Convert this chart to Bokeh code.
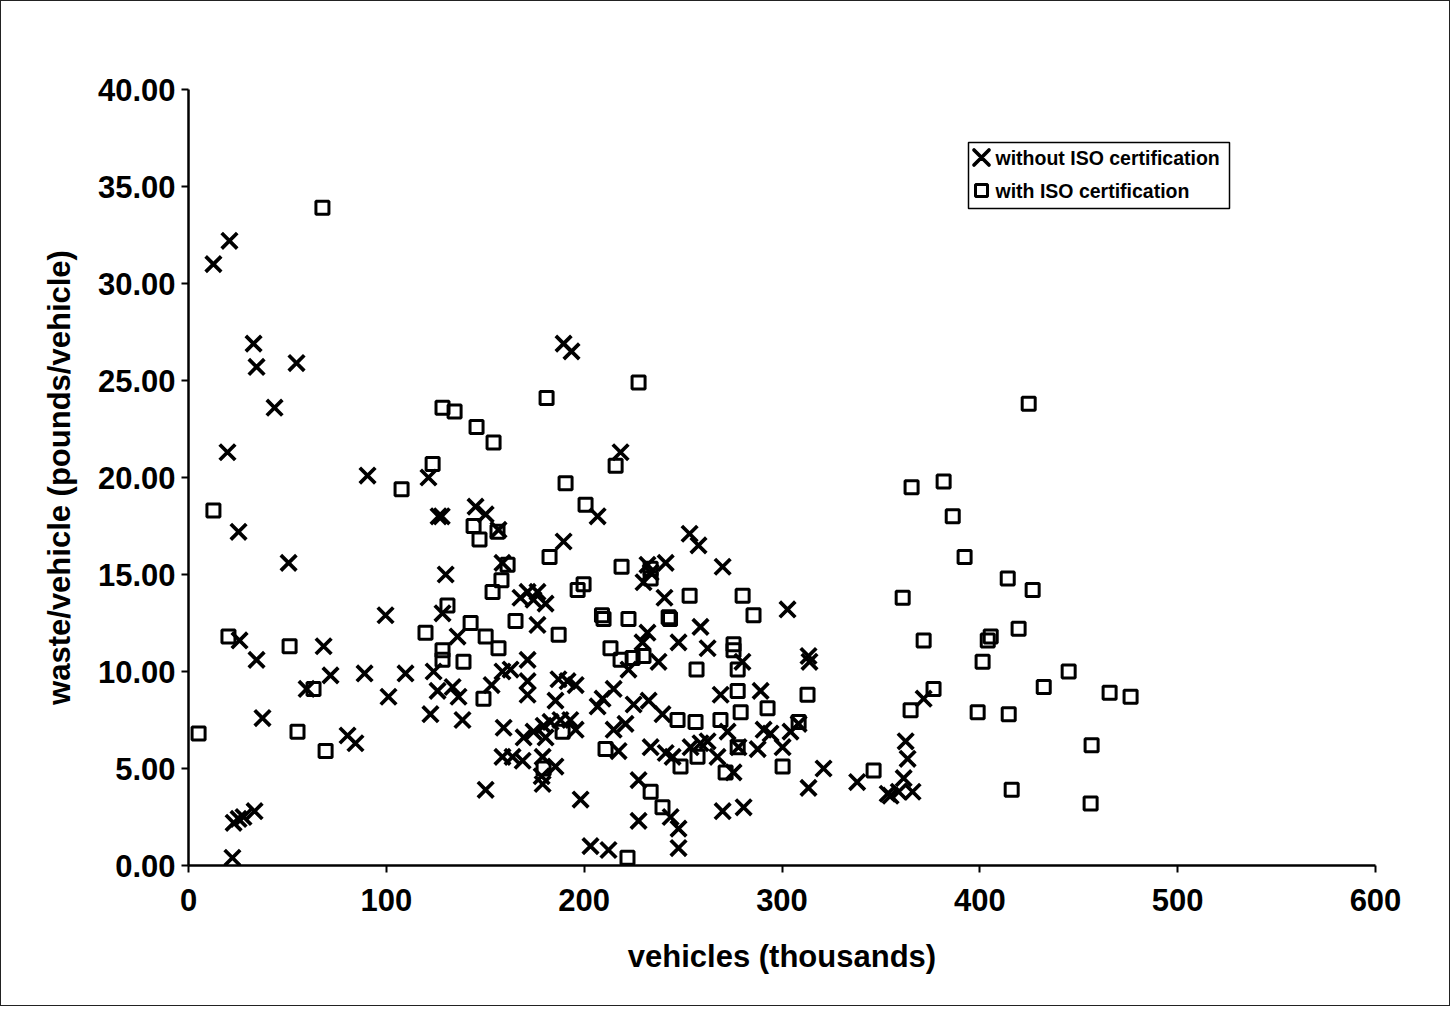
from bokeh.plotting import figure
from bokeh.models import (Range1d, FixedTicker, NumeralTickFormatter, ColumnDataSource,
                          BoxAnnotation, PolyAnnotation, Label)
from bokeh.embed import file_html
from bokeh.resources import INLINE

# without ISO certification (x: vehicles in thousands, y: pounds/vehicle)
no_iso_x = [12.6, 20.7, 32.9, 34.4, 54.6, 43.5, 19.7, 25.3, 50.6, 25.8, 34.4, 37.4, 59.7, 68.3, 71.8,
            80.4, 84.4, 89.0, 90.5, 22.8, 25.3, 27.8, 33.4, 22.2, 99.6, 101.1, 109.7, 121.3, 126.4, 128.0,
            145.1, 150.2, 156.7, 206.8, 189.6, 158.7, 130.0, 171.4, 167.8, 174.4, 180.5, 176.4, 128.4, 176.4,
            136.0, 171.4, 158.7, 162.8, 171.4, 171.4, 153.2, 187.0, 191.6, 195.7, 185.5, 123.9, 125.9, 133.5,
            136.5, 209.3, 214.9, 122.3, 138.5, 159.3, 169.4, 174.4, 179.5, 183.0, 188.0, 193.0, 195.7, 180.5,
            206.8, 222.4, 225.0, 214.9, 220.9, 158.7, 163.8, 168.9, 179.0, 185.5, 178.5, 179.0, 217.4, 150.2,
            198.2, 258.8, 232.0, 229.5, 247.7, 262.4, 237.6, 280.0, 313.4, 313.9, 269.0, 289.2, 232.6, 239.6,
            272.5, 290.7, 294.2, 304.3, 308.4, 300.3, 233.6, 241.2, 244.7, 253.8, 258.8, 262.4, 267.4, 275.5,
            278.0, 287.7, 227.5, 313.4, 321.0, 338.0, 227.5, 243.7, 247.7, 247.7, 270.0, 280.6, 212.3, 203.2,
            189.6, 193.6, 218.4, 253.3, 257.8, 270.0, 232.0, 233.6, 230.0, 241.2, 240.6, 302.8, 371.6, 362.5,
            363.5, 361.5, 353.4, 359.0, 366.0, 354.9]
no_iso_y = [31.0, 32.2, 26.9, 25.7, 25.9, 23.6, 21.3, 17.2, 15.6, 11.6, 10.6, 7.6, 9.1, 11.3, 9.8,
            6.7, 6.3, 9.9, 20.1, 2.2, 2.4, 2.5, 2.8, 0.4, 12.9, 8.7, 9.9, 20.0, 18.0, 18.0,
            18.5, 18.1, 17.3, 18.0, 16.7, 15.6, 15.0, 14.1, 13.8, 13.7, 13.5, 14.1, 13.0, 12.4,
            11.8, 10.6, 10.0, 10.1, 9.5, 8.8, 9.3, 9.6, 9.5, 9.3, 8.5, 10.0, 9.0, 9.2,
            8.7, 8.6, 9.1, 7.8, 7.5, 7.1, 6.6, 6.9, 7.2, 7.4, 7.5, 7.5, 7.0, 6.6,
            8.2, 10.1, 8.3, 7.0, 7.3, 5.6, 5.6, 5.4, 5.6, 5.1, 4.6, 4.2, 5.9, 3.9,
            3.4, 12.3, 12.0, 11.5, 11.5, 11.2, 10.5, 10.5, 10.8, 10.5, 8.8, 9.0, 8.5, 7.8,
            6.9, 7.0, 6.8, 6.9, 7.3, 6.1, 6.1, 5.8, 5.6, 6.1, 6.3, 6.4, 5.6, 4.8,
            6.1, 6.0, 4.4, 4.0, 5.0, 4.3, 2.3, 2.5, 1.9, 0.9, 2.8, 3.0, 0.8, 1.0,
            26.9, 26.5, 21.3, 17.1, 16.5, 15.4, 15.5, 15.1, 14.6, 15.6, 13.8, 13.2, 8.6, 6.4,
            5.5, 4.5, 3.7, 3.8, 3.8, 3.6]

# with ISO certification
iso_x = [67.7, 12.6, 20.2, 5.1, 51.1, 63.2, 55.1, 69.3, 107.7, 123.4, 128.4, 134.5, 145.6, 154.2, 181.0,
         227.5, 190.6, 200.7, 215.9, 182.5, 218.9, 144.1, 147.1, 156.2, 161.3, 158.2, 153.7, 130.9, 142.6,
         165.3, 196.7, 199.7, 209.0, 209.8, 222.4, 242.7, 243.4, 187.1, 119.8, 128.4, 128.4, 139.0, 149.1,
         150.2, 156.7, 189.1, 210.8, 221.9, 213.3, 218.4, 224.5, 230.0, 233.6, 233.6, 253.3, 280.1, 285.6,
         275.5, 275.5, 256.8, 277.6, 277.6, 279.1, 292.7, 312.9, 308.4, 247.2, 256.3, 268.9, 248.7, 257.3,
         277.6, 271.5, 300.3, 233.6, 239.6, 179.5,
         424.7, 365.5, 381.7, 386.3, 392.3, 414.1, 426.7, 361.0, 371.6, 405.5, 404.0, 419.6, 401.4, 444.9,
         432.3, 465.6, 476.2, 376.6, 365.0, 398.9, 414.6, 456.5, 416.1, 456.0, 346.3]
iso_y = [33.9, 18.3, 11.8, 6.8, 11.3, 9.1, 6.9, 5.9, 19.4, 20.7, 23.6, 23.4, 22.6, 21.8, 24.1,
         24.9, 19.7, 18.6, 20.6, 15.9, 15.4, 17.5, 16.8, 17.2, 15.5, 14.7, 14.1, 13.4, 12.5,
         12.6, 14.2, 14.5, 12.9, 12.7, 12.7, 12.8, 12.7, 11.9, 12.0, 11.1, 10.6, 10.5, 8.6,
         11.8, 11.2, 6.9, 6.0, 0.4, 11.2, 10.6, 10.7, 10.8, 15.3, 14.8, 13.9, 13.9, 12.9,
         11.4, 11.1, 10.1, 10.1, 9.0, 7.9, 8.1, 8.8, 7.4, 7.5, 7.4, 7.5, 5.1, 5.6,
         6.1, 4.8, 5.1, 3.8, 3.0, 5.0,
         23.8, 19.5, 19.8, 18.0, 15.9, 14.8, 14.2, 13.8, 11.6, 11.8, 11.6, 12.2, 10.5, 10.0,
         9.2, 8.9, 8.7, 9.1, 8.0, 7.9, 7.8, 6.2, 3.9, 3.2, 4.9]

x_ticks = [0, 100, 200, 300, 400, 500, 600]
y_ticks = [0, 5, 10, 15, 20, 25, 30, 35, 40]
series_labels = ["without ISO certification", "with ISO certification"]

FONT = "Liberation Sans"

p = figure(width=1450, height=1006, output_backend="svg", toolbar_location=None,
           x_range=Range1d(0, 600), y_range=Range1d(0, 40),
           min_border_left=187, min_border_right=76, min_border_top=88, min_border_bottom=142)
p.styles = {"border": "1.5px solid #222"}
p.outline_line_color = None
p.xgrid.grid_line_color = None
p.ygrid.grid_line_color = None
p.background_fill_color = "white"
p.border_fill_color = "white"

src_a = ColumnDataSource(dict(x=no_iso_x, y=no_iso_y))
src_b = ColumnDataSource(dict(x=iso_x, y=iso_y))
r_a = p.scatter("x", "y", source=src_a, marker="x", size=22, line_color="black", line_width=3.7)
r_b = p.scatter("x", "y", source=src_b, marker="square", size=13, line_color="black",
                line_width=3, fill_color=None)

for ax in (p.xaxis[0], p.yaxis[0]):
    ax.axis_line_color = "black"
    ax.axis_line_width = 2.5
    ax.major_tick_line_color = "black"
    ax.major_tick_line_width = 2
    ax.major_tick_out = 7
    ax.major_tick_in = 0
    ax.minor_tick_line_color = None
    ax.major_label_text_font = FONT
    ax.major_label_text_font_style = "bold"
    ax.major_label_text_font_size = "31px"
    ax.major_label_text_color = "black"
    ax.axis_label_text_font = FONT
    ax.axis_label_text_font_style = "bold"
    ax.axis_label_text_font_size = "31px"
    ax.axis_label_text_color = "black"

p.xaxis[0].ticker = FixedTicker(ticks=x_ticks)
p.yaxis[0].ticker = FixedTicker(ticks=y_ticks)
p.yaxis[0].formatter = NumeralTickFormatter(format="0.00")
p.xaxis[0].axis_label = "vehicles (thousands)"
p.yaxis[0].axis_label = "waste/vehicle (pounds/vehicle)"
p.xaxis[0].major_label_standoff = 16
p.yaxis[0].major_label_standoff = 6
p.xaxis[0].axis_label_standoff = 25
p.yaxis[0].axis_label_standoff = 18

# ---- legend (drawn in screen units relative to the plot frame, y measured upward) ----
LG_L, LG_R, LG_B, LG_T = 780, 1041, 657, 723
ROW1, ROW2 = 708, 675
GX = 793
p.add_layout(BoxAnnotation(left=LG_L, right=LG_R, bottom=LG_B, top=LG_T,
                           left_units="screen", right_units="screen",
                           bottom_units="screen", top_units="screen",
                           fill_color="white", fill_alpha=1.0,
                           line_color="black", line_alpha=1.0, line_width=1.5))
r = 7.5
p.add_layout(PolyAnnotation(xs=[GX - r, GX + r, GX, GX - r, GX + r, GX],
                            ys=[ROW1 - r, ROW1 + r, ROW1, ROW1 + r, ROW1 - r, ROW1],
                            xs_units="screen", ys_units="screen",
                            fill_color=None, fill_alpha=0, line_color="black", line_alpha=1.0,
                            line_width=3.7, line_join="round", line_cap="round"))
s = 6
p.add_layout(BoxAnnotation(left=GX - s, right=GX + s, bottom=ROW2 - s, top=ROW2 + s,
                           left_units="screen", right_units="screen",
                           bottom_units="screen", top_units="screen",
                           fill_color=None, fill_alpha=0, line_color="black", line_alpha=1.0,
                           line_width=3))
for lbl, ry in zip(series_labels, [ROW1, ROW2]):
    p.add_layout(Label(x=807, y=ry, x_units="screen", y_units="screen", text=lbl,
                       text_font=FONT, text_font_style="bold", text_font_size="19.5px",
                       text_color="black", text_baseline="middle", text_align="left"))

open("out.html", "w").write(file_html(p, INLINE))
